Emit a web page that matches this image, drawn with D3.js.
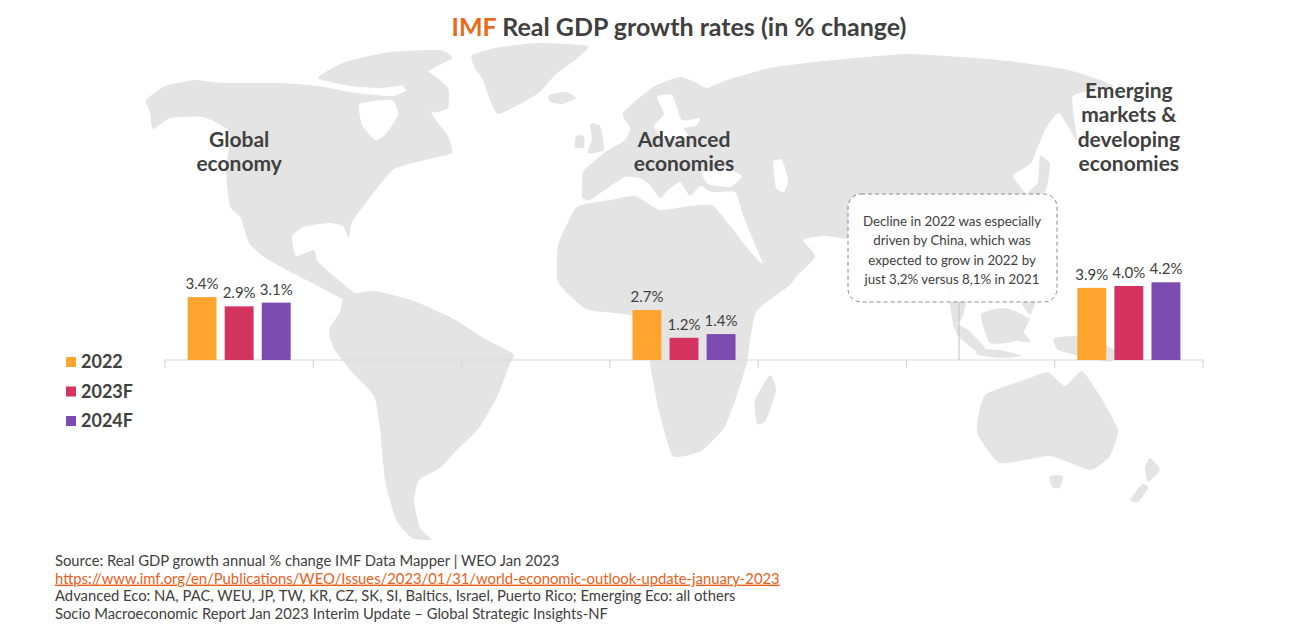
<!DOCTYPE html>
<html>
<head>
<meta charset="utf-8">
<script src="https://cdn.jsdelivr.net/npm/d3@7"></script>
<style>
  body { margin: 0; background: #fff; }
  svg { display: block; font-family: Lato, "Noto Sans", sans-serif; }
</style>
</head>
<body>
<div id="chart"></div>
<script>
// chart values
var slots = ['Global economy', 'gap1', 'gap2', 'Advanced economies', 'gap3', 'gap4', 'Emerging markets & developing economies'];
var categories = ['Global economy', 'Advanced economies', 'Emerging markets & developing economies'];
var categoryLines = [['Global', 'economy'], ['Advanced', 'economies'], ['Emerging', 'markets &', 'developing', 'economies']];
var series = ['2022', '2023F', '2024F'];
var values2022 = [3.4, 2.7, 3.9];
var values2023F = [2.9, 1.2, 4.0];
var values2024F = [3.1, 1.4, 4.2];
var noteLines = ['Decline in 2022 was especially', 'driven by China, which was', 'expected to grow in 2022 by', 'just 3,2% versus 8,1% in 2021'];
var sourceLines = [
  'Source: Real GDP growth annual % change IMF Data Mapper | WEO Jan 2023',
  'https://www.imf.org/en/Publications/WEO/Issues/2023/01/31/world-economic-outlook-update-january-2023',
  'Advanced Eco: NA, PAC, WEU, JP, TW, KR, CZ, SK, SI, Baltics, Israel, Puerto Rico; Emerging Eco: all others',
  'Socio Macroeconomic Report Jan 2023 Interim Update \u2013 Global Strategic Insights-NF'
];

// rough background world map (decoration only, screen coords)
var land = [
  // north america
  [[146,100],[165,86],[195,80],[222,83],[280,83],[318,86],[356,93],[394,96],[417,86],[428,100],[433,116],[448,136],[452,153],[433,158],[394,169],[371,196],[352,222],[349,238],[343,226],[329,223],[303,227],[292,237],[296,256],[314,250],[318,262],[341,282],[356,295],[345,300],[318,286],[287,270],[264,257],[249,243],[241,218],[230,206],[226,169],[230,132],[203,117],[170,118],[153,129],[150,112]],
  // arctic islands
  [[318,78],[345,62],[390,52],[440,50],[452,58],[430,70],[408,84],[380,88],[350,86]],
  [[400,80],[428,72],[448,88],[448,108],[434,112],[412,96]],
  // greenland
  [[472,55],[500,47],[540,43],[588,46],[575,60],[555,75],[540,92],[520,104],[498,114],[490,100],[483,80],[475,68]],
  [[549,95],[566,92],[576,98],[562,104],[550,102]],
  // south america
  [[345,296],[375,291],[414,301],[452,318],[482,337],[513,354],[509,366],[498,395],[479,428],[456,451],[440,468],[419,480],[414,501],[420,528],[432,540],[412,538],[396,520],[385,480],[380,428],[374,396],[352,372],[334,349],[329,330],[340,312]],
  // eurasia
  [[582,197],[590,200],[612,185],[625,177],[640,178],[650,185],[660,198],[668,190],[680,182],[690,196],[700,186],[712,192],[735,192],[740,205],[745,220],[770,278],[788,283],[815,257],[803,240],[825,236],[861,242],[878,262],[898,296],[916,262],[935,249],[944,270],[953,322],[962,318],[972,283],[981,272],[999,242],[1022,216],[1027,196],[1013,176],[1031,163],[1045,130],[1059,113],[1077,140],[1073,96],[1114,86],[1068,70],[999,60],[907,54],[815,62],[770,68],[727,80],[707,88],[697,83],[680,77],[653,87],[623,113],[630,128],[625,140],[604,153],[591,164],[583,172]],
  // uk and ireland
  [[590,124],[600,126],[604,150],[588,153],[592,138]],
  [[576,136],[584,136],[584,148],[575,147]],
  // africa
  [[578,206],[610,200],[635,196],[660,210],[690,206],[712,205],[724,218],[760,262],[797,269],[790,285],[756,312],[747,362],[737,395],[724,428],[701,451],[673,456],[659,411],[650,362],[650,322],[632,315],[586,309],[558,282],[558,246],[568,222]],
  [[770,375],[776,390],[766,420],[757,424],[755,400]],
  // japan, islands, oceania
  [[1040,156],[1050,164],[1046,190],[1030,203],[1026,195],[1038,182]],
  [[1017,276],[1030,278],[1036,300],[1030,315],[1020,300]],
  [[953,322],[968,330],[985,348],[975,350],[958,336]],
  [[981,314],[1005,308],[1027,318],[1018,340],[990,343]],
  [[976,349],[1000,350],[1022,356],[1000,358],[978,355]],
  [[1013,320],[1030,318],[1024,332],[1031,342],[1016,340]],
  [[1054,338],[1085,336],[1118,352],[1110,362],[1080,356],[1058,350]],
  [[985,395],[1030,378],[1048,372],[1065,386],[1082,371],[1100,396],[1118,430],[1110,456],[1090,470],[1050,456],[1000,463],[977,432]],
  [[1050,476],[1063,476],[1060,488],[1052,487]],
  [[1150,458],[1160,470],[1148,482],[1145,468]],
  [[1142,484],[1148,488],[1138,502],[1130,500]]
];
var lakes = [
  [[360,104],[392,100],[398,115],[385,135],[375,140],[362,125]],
  [[657,97],[672,95],[682,120],[700,118],[696,126],[684,128],[688,136],[662,138],[654,126],[664,114]],
  [[702,172],[725,168],[742,176],[730,187],[708,184]],
  [[773,162],[782,160],[788,180],[784,192],[776,188]]
];

var width = 1303, height = 627;
var colors = ['#FFA42F', '#D4335F', '#7B4BAF'];
var textColor = '#404040';
var seriesValues = [values2022, values2023F, values2024F];

var svg = d3.select('#chart').append('svg')
  .attr('width', width)
  .attr('height', height);

// background map
var outline = d3.line().curve(d3.curveCardinalClosed.tension(0.5));
svg.append('g').selectAll('path')
  .data(land)
  .enter()
  .append('path')
  .attr('d', outline)
  .attr('fill', '#e4e4e4');
svg.append('g').selectAll('path')
  .data(lakes)
  .enter()
  .append('path')
  .attr('d', outline)
  .attr('fill', '#ffffff');

// scales
var x = d3.scaleBand().domain(slots).range([165, 1203]);
var xSub = d3.scaleBand().domain(series).range([0, x.bandwidth()]).paddingInner(0.22).paddingOuter(0.61);
var y = d3.scaleLinear().domain([0, 5]).range([360, 267.5]);

// baseline and ticks
var axis = svg.append('g').attr('stroke', '#d9d9d9').attr('stroke-width', 1.2);
axis.append('line')
  .attr('x1', x.range()[0]).attr('x2', x.range()[1])
  .attr('y1', y(0)).attr('y2', y(0));
axis.selectAll('.tick')
  .data(slots.map(function (s) { return x(s); }).concat([x.range()[1]]))
  .enter()
  .append('line')
  .attr('x1', function (d) { return d; }).attr('x2', function (d) { return d; })
  .attr('y1', y(0)).attr('y2', y(0) + 8);

// bars
var rows = [];
categories.forEach(function (c, i) {
  series.forEach(function (s, j) {
    rows.push({ cat: c, series: s, value: seriesValues[j][i], color: colors[j] });
  });
});

svg.append('g').selectAll('rect')
  .data(rows)
  .enter()
  .append('rect')
  .attr('x', function (d) { return x(d.cat) + xSub(d.series); })
  .attr('y', function (d) { return y(d.value); })
  .attr('width', xSub.bandwidth())
  .attr('height', function (d) { return y(0) - y(d.value); })
  .attr('fill', function (d) { return d.color; });

svg.append('g').selectAll('text')
  .data(rows)
  .enter()
  .append('text')
  .attr('x', function (d) { return x(d.cat) + xSub(d.series) + xSub.bandwidth() / 2; })
  .attr('y', function (d) { return y(d.value) - 8; })
  .attr('text-anchor', 'middle')
  .attr('font-size', 15)
  .attr('fill', textColor)
  .text(function (d) { return d.value.toFixed(1) + '%'; });

// category labels, bottom aligned
categories.forEach(function (c, i) {
  var lines = categoryLines[i];
  var t = svg.append('text')
    .attr('text-anchor', 'middle')
    .attr('font-size', 21)
    .attr('font-weight', 700)
    .attr('fill', textColor);
  lines.forEach(function (l, k) {
    t.append('tspan')
      .attr('x', x(c) + x.bandwidth() / 2)
      .attr('y', 171 - (lines.length - 1 - k) * 24.5)
      .text(l);
  });
});

// legend
var legend = svg.append('g').selectAll('g')
  .data(series)
  .enter()
  .append('g')
  .attr('transform', function (d, i) { return 'translate(66,' + (357 + i * 29.5) + ')'; });
legend.append('rect')
  .attr('width', 10).attr('height', 10)
  .attr('fill', function (d, i) { return colors[i]; });
legend.append('text')
  .attr('x', 15).attr('y', 11)
  .attr('font-size', 18)
  .attr('font-weight', 700)
  .attr('fill', textColor)
  .text(function (d) { return d; });

// title
var title = svg.append('text')
  .attr('x', 679).attr('y', 36)
  .attr('text-anchor', 'middle')
  .attr('font-size', 25)
  .attr('font-weight', 700)
  .attr('fill', textColor);
title.append('tspan').attr('fill', '#EA6A1C').text('IMF');
title.append('tspan').text(' Real GDP growth rates (in % change)');

// annotation box with connector
svg.append('line')
  .attr('x1', 959).attr('x2', 959)
  .attr('y1', 302).attr('y2', y(0))
  .attr('stroke', '#c9c9c9').attr('stroke-width', 1.2);
svg.append('rect')
  .attr('x', 848).attr('y', 194)
  .attr('width', 209).attr('height', 108)
  .attr('rx', 13)
  .attr('fill', 'rgba(255,255,255,0.9)')
  .attr('stroke', '#8a8a8a')
  .attr('stroke-dasharray', '4,3');
svg.append('g').selectAll('text')
  .data(noteLines)
  .enter()
  .append('text')
  .attr('x', 952)
  .attr('y', function (d, i) { return 226 + i * 19.3; })
  .attr('text-anchor', 'middle')
  .attr('font-size', 13.3)
  .attr('fill', textColor)
  .text(function (d) { return d; });

// source notes
svg.append('g').selectAll('text')
  .data(sourceLines)
  .enter()
  .append('text')
  .attr('x', 55)
  .attr('y', function (d, i) { return 566 + i * 17.6; })
  .attr('font-size', 14.8)
  .attr('fill', function (d, i) { return i === 1 ? '#E8601C' : textColor; })
  .attr('text-decoration', function (d, i) { return i === 1 ? 'underline' : null; })
  .text(function (d) { return d; });
</script>
</body>
</html>
